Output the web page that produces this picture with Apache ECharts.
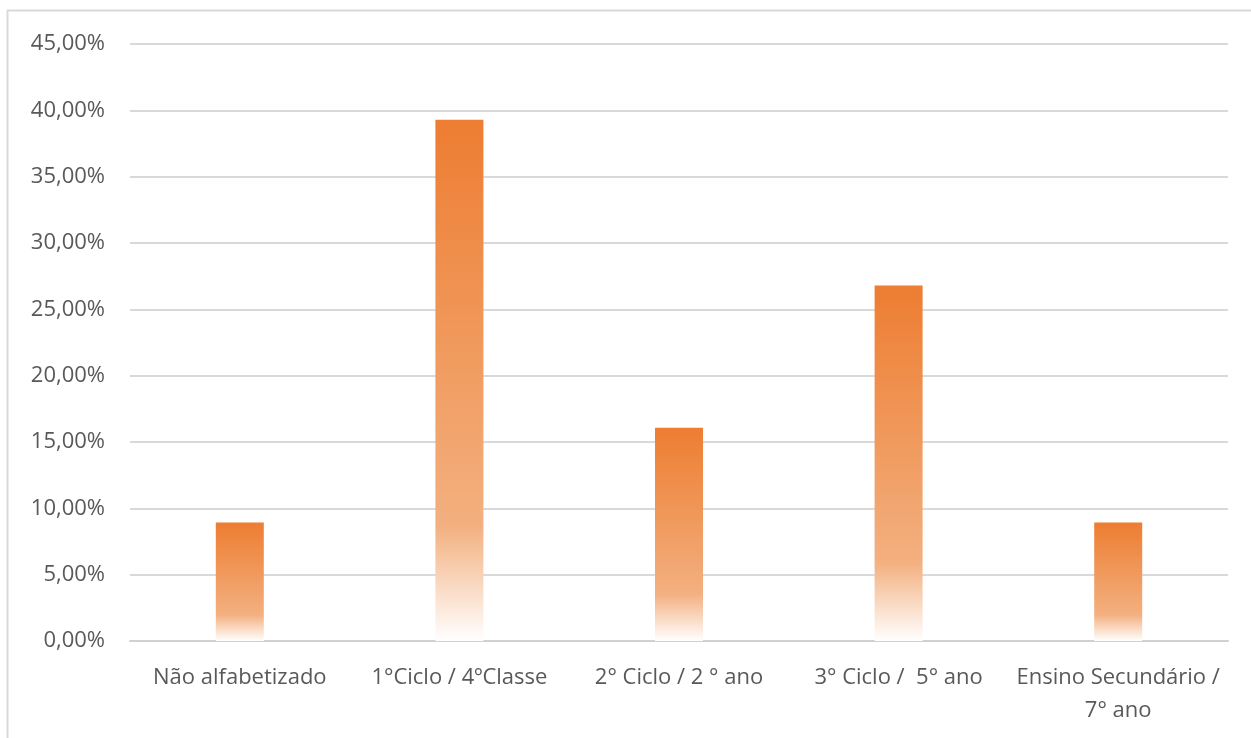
<!DOCTYPE html>
<html>
<head>
<meta charset="utf-8">
<script src="https://cdn.jsdelivr.net/npm/echarts@6/dist/echarts.min.js"></script>
<style>
html,body{margin:0;padding:0;background:#fff;}
#c{width:1251px;height:738px;}
</style>
</head>
<body>
<div id="c"></div>
<script>
const categories = ['Não alfabetizado', '1°Ciclo / 4ºClasse', '2° Ciclo / 2 ° ano', '3° Ciclo /  5° ano', 'Ensino Secundário /\n7° ano'];
const values = [0.0893, 0.3929, 0.1607, 0.2679, 0.0893];
const yTicks = { min: 0, max: 0.45, interval: 0.05 };

const chart = echarts.init(document.getElementById('c'));
const fontFam = '"Open Sans", "Noto Sans", sans-serif';
chart.setOption({
  animation: false,
  graphic: [{
    type: 'rect',
    shape: { x: 7.5, y: 10.5, width: 1300, height: 800 },
    style: { fill: 'none', stroke: '#d9d9d9', lineWidth: 2 },
    silent: true
  }],
  grid: { left: 130, right: 23, top: 44, bottom: 97 },
  xAxis: {
    type: 'category',
    data: categories,
    axisTick: { show: false },
    axisLine: { lineStyle: { color: '#d0d0d0', width: 2 } },
    axisLabel: { color: '#595959', fontSize: 22, fontFamily: fontFam, margin: 20, lineHeight: 33, interval: 0 }
  },
  yAxis: {
    type: 'value',
    min: yTicks.min, max: yTicks.max, interval: yTicks.interval,
    axisLine: { show: false },
    axisTick: { show: false },
    splitLine: { lineStyle: { color: '#d9d9d9', width: 2 } },
    axisLabel: {
      color: '#595959', fontSize: 22, fontFamily: fontFam, margin: 25,
      formatter: v => (v * 100).toFixed(2).replace('.', ',') + '%'
    }
  },
  series: [{
    type: 'bar',
    data: values,
    barWidth: 48,
    itemStyle: {
      color: {
        type: 'linear', x: 0, y: 0, x2: 0, y2: 1,
        colorStops: [
          { offset: 0, color: '#ED7D31' },
          { offset: 0.78, color: '#F3B080' },
          { offset: 1, color: '#FFFFFF' }
        ]
      }
    }
  }]
});
</script>
</body>
</html>
